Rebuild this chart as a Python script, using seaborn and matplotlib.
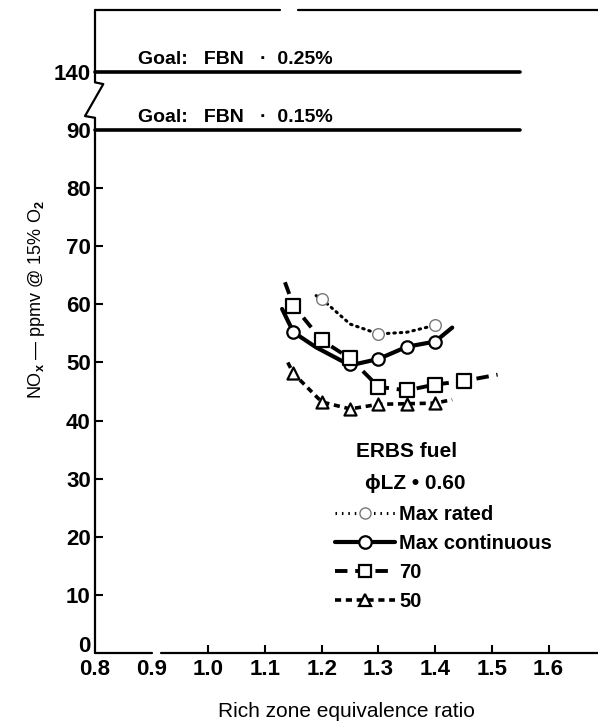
import matplotlib
matplotlib.use("Agg")
import matplotlib.pyplot as plt
import matplotlib.transforms as mtrans
import seaborn as sns
from matplotlib.lines import Line2D
from matplotlib.legend_handler import HandlerLine2D

sns.set_theme(style="white")
plt.rcParams['font.family'] = ['Liberation Sans', 'DejaVu Sans']
plt.rcParams['font.weight'] = 'bold'
plt.rcParams['mathtext.fontset'] = 'custom'
plt.rcParams['mathtext.rm'] = 'Liberation Sans:bold'
plt.rcParams['mathtext.it'] = 'Liberation Sans:italic:bold'

# ---------------- data ----------------
rated_curve_x = [1.19, 1.20, 1.25, 1.30, 1.35, 1.40, 1.41]
rated_curve_y = [61.5, 60.9, 56.6, 54.9, 55.2, 56.4, 57.0]
rated_pts_x = [1.20, 1.30, 1.40]
rated_pts_y = [60.9, 54.9, 56.4]

cont_curve_x = [1.13, 1.15, 1.19, 1.25, 1.30, 1.35, 1.40, 1.43]
cont_curve_y = [59.2, 55.2, 52.6, 49.5, 50.6, 52.7, 53.6, 56.0]
cont_pts_x = [1.15, 1.25, 1.30, 1.35, 1.40]
cont_pts_y = [55.2, 49.8, 50.6, 52.7, 53.6]

p70_curve_x = [1.135, 1.15, 1.20, 1.25, 1.30, 1.35, 1.40, 1.45, 1.51]
p70_curve_y = [63.8, 59.8, 53.8, 50.7, 45.8, 45.2, 46.2, 46.8, 47.9]
p70_pts_x = [1.15, 1.20, 1.25, 1.30, 1.35, 1.40, 1.45]
p70_pts_y = [59.8, 53.8, 50.7, 45.8, 45.2, 46.2, 46.8]

p50_curve_x = [1.14, 1.15, 1.20, 1.25, 1.30, 1.35, 1.40, 1.43]
p50_curve_y = [50.0, 48.1, 43.2, 42.0, 42.8, 42.9, 43.0, 43.6]
p50_pts_x = [1.15, 1.20, 1.25, 1.30, 1.35, 1.40]
p50_pts_y = [48.1, 43.2, 42.0, 42.8, 42.9, 43.0]

goal_y = [100, 90]            # 140 is drawn above the axis break at 100
goal_x = [0.8, 1.55]
goal_labels = ["Goal:   FBN   \u00b7  0.25%", "Goal:   FBN   \u00b7  0.15%"]

xtick_pos = [0.8, 0.9, 1.0, 1.1, 1.2, 1.3, 1.4, 1.5, 1.6]
xtick_labels = ["0.8", "0.9", "1.0", "1.1", "1.2", "1.3", "1.4", "1.5", "1.6"]
ytick_pos = [0, 10, 20, 30, 40, 50, 60, 70, 80, 90, 100]
ytick_labels = ["0", "10", "20", "30", "40", "50", "60", "70", "80", "90", "140"]

legend_labels = ["Max rated", "Max continuous", "70", "50"]

# ---------------- figure ----------------
W, H = 598, 725
fig = plt.figure(figsize=(W / 100, H / 100), dpi=100)
ax = fig.add_axes([95 / W, 72 / H, 503 / W, 643 / H])
XMAX = 0.8 + 503 / 567
YMAX = 643 / 5.811
ax.set_xlim(0.8, XMAX)
ax.set_ylim(0, YMAX)

for s in ax.spines.values():
    s.set_visible(False)

K = "black"
dot_ls = (0, (0.5, 1.6))
cont_ls = "-"
d70_ls = (0, (3.2, 2.0))
d50_ls = (0, (1.7, 1.3))

# curves
sns.lineplot(x=rated_curve_x, y=rated_curve_y, ax=ax, color=K, lw=2.2,
             linestyle=dot_ls, dash_capstyle="round", sort=False, estimator=None)
sns.lineplot(x=cont_curve_x, y=cont_curve_y, ax=ax, color=K, lw=3.0,
             linestyle=cont_ls, sort=False, estimator=None)
sns.lineplot(x=p70_curve_x, y=p70_curve_y, ax=ax, color=K, lw=2.8,
             linestyle=d70_ls, sort=False, estimator=None)
sns.lineplot(x=p50_curve_x, y=p50_curve_y, ax=ax, color=K, lw=2.6,
             linestyle=d50_ls, sort=False, estimator=None)

# markers
sns.scatterplot(x=rated_pts_x, y=rated_pts_y, ax=ax, marker="o", s=70,
                facecolor="white", edgecolor="#777777", linewidth=1.0, zorder=4)
sns.scatterplot(x=cont_pts_x, y=cont_pts_y, ax=ax, marker="o", s=80,
                facecolor="white", edgecolor=K, linewidth=1.6, zorder=4)
sns.scatterplot(x=p70_pts_x, y=p70_pts_y, ax=ax, marker="s", s=95,
                facecolor="white", edgecolor=K, linewidth=1.6, zorder=4)
sns.scatterplot(x=p50_pts_x, y=p50_pts_y, ax=ax, marker="^", s=75,
                facecolor="white", edgecolor=K, linewidth=1.6, zorder=4)

# goal lines
for gy, gl in zip(goal_y, goal_labels):
    ax.plot(goal_x, [gy, gy], color=K, lw=2.6, solid_capstyle="round",
            clip_on=False, zorder=3)
    ax.text(0.875, gy + 1.3, gl, fontsize=14, ha="left", va="baseline", color=K)

# axis lines with breaks
axkw = dict(color=K, lw=1.6, clip_on=False, zorder=5)
ax.plot([0.8, 0.9], [0, 0], **axkw)
ax.plot([0.917, XMAX], [0, 0], **axkw)
ax.plot([0.8, 0.8], [0, 92.1], **axkw)
ax.plot([0.8, 0.7824, 0.8146, 0.8], [92.1, 92.4, 97.9, 98.2], **axkw)
ax.plot([0.8, 0.8], [98.2, YMAX], **axkw)
ax.plot([0.8, 1.126], [YMAX, YMAX], **axkw)
ax.plot([1.158, XMAX], [YMAX, YMAX], **axkw)

# ticks
ax.set_xticks(xtick_pos)
ax.set_xticklabels(xtick_labels)
ax.set_yticks(ytick_pos)
ax.set_yticklabels(ytick_labels)
ax.tick_params(axis="both", direction="in", length=6, width=1.5, color=K,
               labelsize=16, labelcolor=K)
ax.tick_params(axis="x", pad=4, bottom=True)
ax.tick_params(axis="y", pad=3, left=True)
xt = ax.xaxis.get_major_ticks()
for i in (0, 1):
    xt[i].tick1line.set_visible(False)
yt0 = ax.yaxis.get_major_ticks()[0]
yt0.tick1line.set_visible(False)
lbl0 = yt0.label1
lbl0.set_transform(lbl0.get_transform() +
                   mtrans.ScaledTranslation(0, 9 / 100, fig.dpi_scale_trans))

ax.set_xlabel("Rich zone equivalence ratio", fontsize=15, color=K, labelpad=16)
ax.set_ylabel("NO$_\\mathrm{x}$ \u2014 ppmv @ 15% O$_\\mathrm{2}$", fontsize=13, color=K)
ax.yaxis.set_label_coords(-0.095, 0.55)

# legend block
ax.text(1.350, 34.6, "ERBS fuel", fontsize=15, ha="center", va="center", color=K)
ax.text(1.364, 29.1, "\u03d5LZ \u2022 0.60", fontsize=15, ha="center", va="center", color=K)


class EndMarkerHandler(HandlerLine2D):
    def create_artists(self, legend, orig_handle, xdescent, ydescent,
                       width, height, fontsize, trans):
        arts = super().create_artists(legend, orig_handle, xdescent, ydescent,
                                      width, height, fontsize, trans)
        if len(arts) > 1:
            arts[1].set_xdata([-xdescent + 0.80 * width])
        return arts


handles = [
    Line2D([], [], color=K, lw=2.2, linestyle=dot_ls, marker="o", markersize=8,
           markerfacecolor="white", markeredgecolor="#777777", markeredgewidth=1.0),
    Line2D([], [], color=K, lw=3.0, linestyle=cont_ls, marker="o", markersize=9,
           markerfacecolor="white", markeredgecolor=K, markeredgewidth=1.6),
    Line2D([], [], color=K, lw=2.8, linestyle=d70_ls, marker="s", markersize=9,
           markerfacecolor="white", markeredgecolor=K, markeredgewidth=1.6),
    Line2D([], [], color=K, lw=2.6, linestyle=d50_ls, marker="^", markersize=8,
           markerfacecolor="white", markeredgecolor=K, markeredgewidth=1.6),
]
leg = ax.legend(handles, legend_labels, loc="upper left",
                bbox_to_anchor=(0.477, 0.230), frameon=False,
                prop={'size': 14.5, 'weight': 'bold'},
                handlelength=3.0, handletextpad=0.2, labelspacing=0.5,
                borderpad=0, borderaxespad=0, numpoints=1,
                handler_map={Line2D: EndMarkerHandler(numpoints=1)})
for t in leg.get_texts():
    t.set_color(K)

fig.savefig("out.png", dpi=100)
